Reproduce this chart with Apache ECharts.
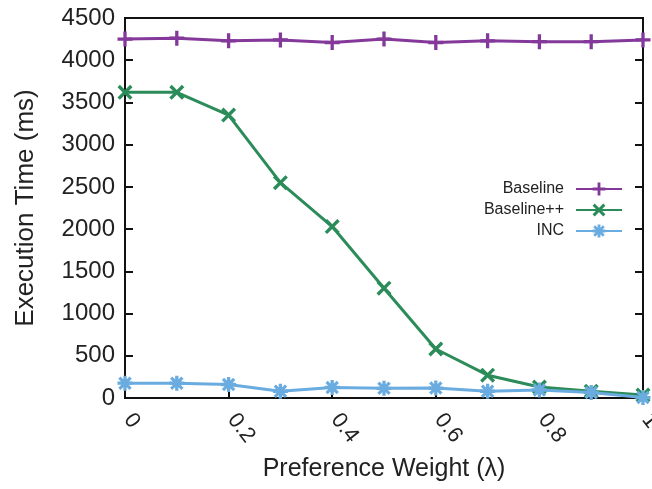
<!DOCTYPE html>
<html style="height: 100%">
<head>
	<meta charset="utf-8">
</head>
<body style="height: 100%; margin: 0; background: #fff">
<div id="container" style="width: 652px; height: 489px"></div>
<script type="text/javascript" src="https://cdn.jsdelivr.net/npm/echarts@6/dist/echarts.min.js"></script>
<script type="text/javascript">
    var lambdas = [0, 0.1, 0.2, 0.3, 0.4, 0.5, 0.6, 0.7, 0.8, 0.9, 1.0];
    var baseline = [4250, 4260, 4230, 4240, 4210, 4250, 4210, 4230, 4220, 4220, 4240];
    var baselinePP = [3620, 3620, 3350, 2550, 2030, 1300, 580, 270, 130, 80, 35];
    var inc = [175, 175, 160, 80, 125, 115, 118, 80, 95, 65, 5];
    var seriesNames = ['Baseline', 'Baseline++', 'INC'];

    // gnuplot-like point types: +, x, *
    var plusPath = 'path://M0,3.9L10,3.9L10,6.1L0,6.1Z M3.9,0L6.1,0L6.1,10L3.9,10Z';
    var crossPath = 'path://M0,1.6L1.6,0L10,8.4L8.4,10Z M8.4,0L10,1.6L1.6,10L0,8.4Z';
    var starPath = 'path://M0,3.9L10,3.9L10,6.1L0,6.1Z M3.9,0L6.1,0L6.1,10L3.9,10Z M0.5,2.0L2.0,0.5L9.5,8.0L8.0,9.5Z M8.0,0.5L9.5,2.0L2.0,9.5L0.5,8.0Z';

    var dom = document.getElementById("container");
    var myChart = echarts.init(dom);

    function pairs(ys) {
        var res = [];
        for (var i = 0; i < lambdas.length; i++) {
            res.push([lambdas[i], ys[i]]);
        }
        return res;
    }

    function makeSeries(name, ys, color, symbol) {
        return {
            name: name,
            type: 'line',
            data: pairs(ys),
            symbol: symbol,
            symbolSize: 15,
            showAllSymbol: true,
            lineStyle: { color: color, width: 3 },
            itemStyle: { color: color },
            clip: false,
            z: 3
        };
    }

    var font = 'Liberation Sans, Arial, sans-serif';

    var option = {
        backgroundColor: '#fff',
        animation: false,
        textStyle: { fontFamily: font },
        grid: {
            left: 125,
            right: 9,
            top: 18,
            bottom: 91,
            outerBoundsMode: 'none',
            containLabel: false,
            show: true,
            borderColor: '#111',
            borderWidth: 2,
            backgroundColor: 'transparent'
        },
        legend: {
            right: 24,
            top: 176,
            orient: 'vertical',
            align: 'right',
            itemWidth: 46,
            itemHeight: 16,
            itemGap: 5,
            textStyle: { fontSize: 16, color: '#222', fontFamily: font, padding: [0, 7, 0, 0] },
            data: seriesNames
        },
        xAxis: {
            type: 'value',
            min: 0,
            max: 1,
            interval: 0.2,
            name: 'Preference Weight (λ)',
            nameLocation: 'middle',
            nameGap: 59,
            nameMoveOverlap: false,
            nameTextStyle: { fontSize: 25, color: '#222' },
            axisLine: { show: true, lineStyle: { color: '#111', width: 2 } },
            axisTick: { show: true, inside: true, length: 8, lineStyle: { color: '#111', width: 2 } },
            axisLabel: {
                rotate: -52,
                fontSize: 22,
                color: '#222',
                margin: 14,
                padding: [0, 0, 0, 5],
                formatter: function (v) { return v === 0 ? '0' : (v === 1 ? '1' : String(+v.toFixed(1))); }
            },
            splitLine: { show: false }
        },
        yAxis: [{
            type: 'value',
            min: 0,
            max: 4500,
            interval: 500,
            name: 'Execution Time (ms)',
            nameLocation: 'middle',
            nameGap: 86,
            nameMoveOverlap: false,
            nameTextStyle: { fontSize: 26, color: '#222' },
            axisLine: { show: true, lineStyle: { color: '#111', width: 2 } },
            axisTick: { show: true, inside: true, length: 8, lineStyle: { color: '#111', width: 2 } },
            axisLabel: { fontSize: 24, color: '#222', margin: 10, formatter: function (v) { return String(v); } },
            splitLine: { show: false }
        }, {
            type: 'value',
            position: 'right',
            min: 0,
            max: 4500,
            interval: 500,
            axisLine: { show: true, lineStyle: { color: '#111', width: 2 } },
            axisTick: { show: true, inside: true, length: 8, lineStyle: { color: '#111', width: 2 } },
            axisLabel: { show: false },
            splitLine: { show: false }
        }],
        series: [
            makeSeries(seriesNames[0], baseline, '#84399a', plusPath),
            makeSeries(seriesNames[1], baselinePP, '#2b8c5a', crossPath),
            makeSeries(seriesNames[2], inc, '#6aace0', starPath)
        ]
    };

    myChart.setOption(option);
</script>
</body>
</html>
